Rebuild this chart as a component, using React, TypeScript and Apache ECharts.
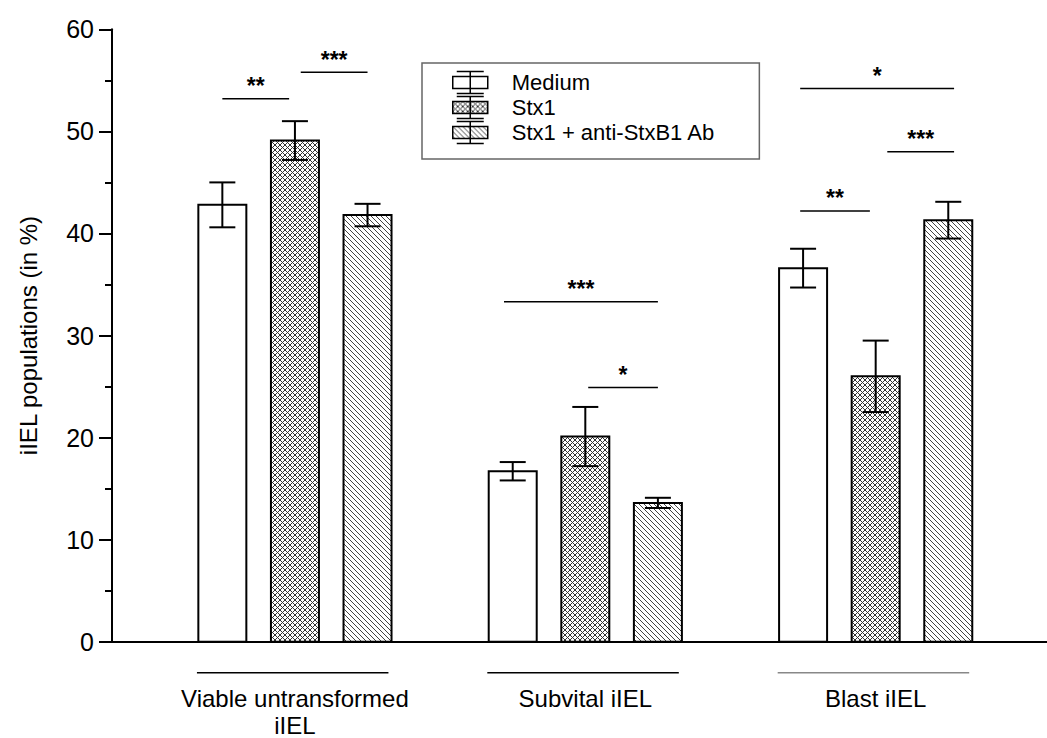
import React, { useEffect, useRef } from "react";
import * as echarts from "echarts";

// ---- data ----
const categories = ["Viable untransformed\niIEL", "Subvital iIEL", "Blast iIEL"];
const treatments = ["Medium", "Stx1", "Stx1 + anti-StxB1 Ab"];
const mediumMean = [42.8, 16.7, 36.6];
const mediumSem = [2.2, 0.9, 1.9];
const stx1Mean = [49.1, 20.1, 26.0];
const stx1Sem = [1.9, 2.9, 3.5];
const antiMean = [41.8, 13.6, 41.3];
const antiSem = [1.1, 0.5, 1.8];
const yMin = 0;
const yMax = 60;
const yInterval = 10;
// significance brackets (x in category units, y in %)
const sigStart = [-0.25, 0.02, 0.72, 1.01, 1.74, 2.04, 1.74];
const sigEnd = [-0.02, 0.25, 1.25, 1.25, 2.27, 2.27, 1.98];
const sigLevel = [53.2, 55.8, 33.3, 24.9, 54.2, 48.0, 42.2];
const sigLabel = ["**", "***", "***", "*", "*", "***", "**"];

// ---- style constants ----
const FONT = "'Liberation Sans', Arial, sans-serif";
const SLOT_OFFSET = [-0.25, 0, 0.25];
const BAR_PX = 48;
const CAP_PX = 26;
const catLineColors = ["#000", "#000", "#888"];

function makePattern(cross: boolean) {
  const n = 5;
  const c = document.createElement("canvas");
  c.width = n;
  c.height = n;
  const ctx = c.getContext("2d")!;
  ctx.fillStyle = "#fff";
  ctx.fillRect(0, 0, n, n);
  ctx.strokeStyle = cross ? "#333" : "#444";
  ctx.lineWidth = 1;
  ctx.beginPath();
  for (let k = -1; k <= 1; k++) {
    ctx.moveTo(k * n, 0);
    ctx.lineTo(k * n + n, n);
    if (cross) {
      ctx.moveTo(k * n + n, 0);
      ctx.lineTo(k * n, n);
    }
  }
  ctx.stroke();
  return { image: c, repeat: "repeat" };
}

export default function App() {
  const ref = useRef<HTMLDivElement>(null);
  useEffect(() => {
    const chart = echarts.init(ref.current!, null, { renderer: "svg" });
    const fills: any[] = ["#fff", makePattern(true), makePattern(false)];
    const means = [mediumMean, stx1Mean, antiMean];
    const sems = [mediumSem, stx1Sem, antiSem];

    const barSeries = treatments.map((name, s) => ({
      type: "custom",
      name,
      z: 2,
      itemStyle: { color: fills[s], borderColor: "#000", borderWidth: 1.5 },
      encode: { x: 0, y: 1 },
      data: means[s].map((m, i) => [i + SLOT_OFFSET[s], m, sems[s][i]]),
      renderItem: (params: any, api: any) => {
        const x = api.value(0);
        const v = api.value(1);
        const e = api.value(2);
        const top = api.coord([x, v]);
        const base = api.coord([x, 0]);
        const hi = api.coord([x, v + e]);
        const lo = api.coord([x, v - e]);
        const cx = top[0];
        return {
          type: "group",
          children: [
            {
              type: "rect",
              shape: { x: cx - BAR_PX / 2, y: top[1], width: BAR_PX, height: base[1] - top[1] },
              style: { fill: fills[s], stroke: "#000", lineWidth: 2 },
            },
            { type: "line", shape: { x1: cx, y1: hi[1], x2: cx, y2: lo[1] }, style: { stroke: "#000", lineWidth: 2 } },
            { type: "line", shape: { x1: cx - CAP_PX / 2, y1: hi[1], x2: cx + CAP_PX / 2, y2: hi[1] }, style: { stroke: "#000", lineWidth: 2 } },
            { type: "line", shape: { x1: cx - CAP_PX / 2, y1: lo[1], x2: cx + CAP_PX / 2, y2: lo[1] }, style: { stroke: "#000", lineWidth: 2 } },
          ],
        };
      },
    }));

    const sigSeries = {
      type: "custom",
      silent: true,
      encode: { x: 0, y: 1 },
      data: sigStart.map((st, i) => [st, sigLevel[i], sigEnd[i]]),
      renderItem: (params: any, api: any) => {
        const a = api.coord([api.value(0), api.value(1)]);
        const b = api.coord([api.value(2), api.value(1)]);
        return {
          type: "group",
          children: [
            { type: "line", shape: { x1: a[0], y1: a[1], x2: b[0], y2: b[1] }, style: { stroke: "#000", lineWidth: 1.5 } },
            {
              type: "text",
              x: (a[0] + b[0]) / 2,
              y: a[1] - 1,
              style: {
                text: sigLabel[params.dataIndex],
                fontSize: 23,
                fontWeight: "bold",
                fontFamily: FONT,
                fill: "#000",
                align: "center",
                verticalAlign: "bottom",
              },
            },
          ],
        };
      },
    };

    const catSeries = {
      type: "custom",
      silent: true,
      encode: { x: 0, y: 1 },
      data: categories.map((c, i) => [i, 0]),
      renderItem: (params: any, api: any) => {
        const p = api.coord([api.value(0), 0]);
        const i = params.dataIndex;
        return {
          type: "group",
          children: [
            {
              type: "line",
              shape: { x1: p[0] - 98, y1: p[1] + 31, x2: p[0] + 93.5, y2: p[1] + 31 },
              style: { stroke: catLineColors[i], lineWidth: 1.5 },
            },
            {
              type: "text",
              x: p[0],
              y: p[1] + 43,
              style: {
                text: categories[i],
                fontSize: 24,
                fontFamily: FONT,
                fill: "#000",
                align: "center",
                verticalAlign: "top",
                lineHeight: 27,
              },
            },
          ],
        };
      },
    };

    chart.setOption({
      animation: false,
      backgroundColor: "#fff",
      grid: { left: 112, right: 0, top: 29.3, bottom: 96.3 },
      legend: {
        orient: "vertical",
        left: 422,
        top: 63,
        data: treatments,
        icon: "path://M0,5H35V17H0Z M17.5,0V22 M4,0H31 M4,22H31",
        itemWidth: 35,
        itemHeight: 22,
        itemGap: 0,
        padding: [7, 44, 14, 30],
        borderColor: "#666",
        borderWidth: 1.5,
        borderRadius: 0,
        itemStyle: { borderColor: "#000", borderWidth: 1.5 },
        textStyle: { fontSize: 22, fontFamily: FONT, color: "#000", lineHeight: 25, padding: [0, 0, 0, 19] },
        selectedMode: false,
      },
      xAxis: {
        type: "value",
        position: "bottom",
        min: -0.63,
        max: 2.59,
        axisLine: { show: true, onZero: false, lineStyle: { color: "#000", width: 2 } },
        axisTick: { show: false },
        axisLabel: { show: false },
        splitLine: { show: false },
        z: 5,
      },
      yAxis: {
        type: "value",
        position: "left",
        min: yMin,
        max: yMax,
        interval: yInterval,
        name: "iIEL populations (in %)",
        nameLocation: "middle",
        nameGap: 72,
        nameTextStyle: { fontSize: 24, fontFamily: FONT, color: "#000" },
        axisLine: { show: true, onZero: false, lineStyle: { color: "#000", width: 2 } },
        axisTick: { show: true, length: 13, lineStyle: { color: "#000", width: 2 } },
        minorTick: { show: true, splitNumber: 2, length: 7, lineStyle: { color: "#000", width: 2 } },
        axisLabel: { fontSize: 25, fontFamily: FONT, color: "#000", margin: 18 },
        splitLine: { show: false },
        z: 5,
      },
      series: [...barSeries, sigSeries, catSeries],
    });
    return () => chart.dispose();
  }, []);
  return (
    <div
      ref={ref}
      style={{ position: "fixed", left: 0, top: 0, width: 1047, height: 738, background: "#fff" }}
    />
  );
}
